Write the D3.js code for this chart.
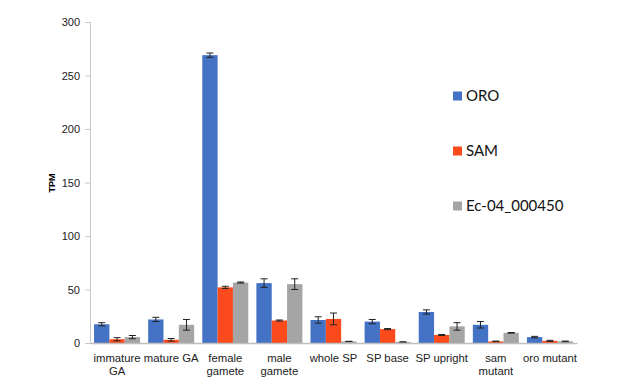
<!DOCTYPE html>
<html lang="en">
<head>
<meta charset="UTF-8">
<title>TPM bar chart</title>
<script src="https://d3js.org/d3.v7.min.js"></script>
<style>
  body { margin: 0; background: #fff; }
  .tick text { font-family: "Liberation Sans", Arial, sans-serif; fill: #222; }
  .legend text { font-family: Lato, "Open Sans", sans-serif; font-size: 15px; fill: #111; }
</style>
</head>
<body>
<div id="chart"></div>
<script>
// categories (x axis), each label may break in two lines
const categories = [["immature", "GA"], ["mature GA"], ["female", "gamete"], ["male", "gamete"],
  ["whole SP"], ["SP base"], ["SP upright"], ["sam", "mutant"], ["oro mutant"]];
const seriesNames = ["ORO", "SAM", "Ec-04_000450"];
const colors = ["#4472C4", "#FB4B1D", "#A5A5A5"];

// values and error half-widths per series
const oro = [17.5, 22, 269, 56, 21.5, 20, 29, 17, 5.5];
const oroErr = [1.5, 2, 2, 4, 3, 2, 2, 3, 0.7];
const sam = [3.5, 3, 52, 21, 22.5, 13, 7.5, 1.5, 2];
const samErr = [1.5, 1.2, 1, 0.5, 5.5, 0.5, 0.5, 0.3, 0.5];
const ec = [5.5, 17, 56.5, 55, 1.5, 1, 15.5, 9.5, 1.5];
const ecErr = [1.5, 5, 0.5, 5, 0, 0, 3.5, 0.3, 0.3];
const yTicks = [0, 50, 100, 150, 200, 250, 300];

const values = [oro, sam, ec];
const errs = [oroErr, samErr, ecErr];

const W = 617, H = 387;
const margin = { left: 90, top: 22, right: 40, bottom: 44 };
const plotW = 577 - margin.left, plotH = 343 - margin.top;

const svg = d3.select("#chart").append("svg").attr("width", W).attr("height", H);
const g = svg.append("g").attr("transform", `translate(${margin.left},${margin.top})`);

const x = d3.scaleBand().domain(d3.range(categories.length)).range([0, plotW]).paddingInner(0.15).paddingOuter(0.075);
const xs = d3.scaleBand().domain(d3.range(3)).range([0, x.bandwidth()]);
const y = d3.scaleLinear().domain([0, 300]).range([plotH, 0]);

// y axis
const yAxis = g.append("g").call(d3.axisLeft(y).tickValues(yTicks).tickSize(5).tickPadding(5));
yAxis.select(".domain").attr("stroke", "#c8c8c8");
yAxis.selectAll(".tick line").attr("stroke", "#c8c8c8");
yAxis.selectAll(".tick text").style("font-size", "11px");

g.append("text")
  .attr("transform", `translate(${52 - margin.left},${183 - margin.top}) rotate(-90)`)
  .attr("text-anchor", "middle").attr("dy", "0.35em")
  .style("font-family", "Liberation Sans, Arial, sans-serif").style("font-size", "9px").style("font-weight", "bold")
  .text("TPM");

// bars
const groups = g.selectAll(".grp").data(categories).enter().append("g")
  .attr("transform", (d, i) => `translate(${x(i)},0)`);

values.forEach((vals, s) => {
  groups.append("rect")
    .attr("x", xs(s)).attr("width", xs.bandwidth())
    .attr("y", (d, i) => y(vals[i]))
    .attr("height", (d, i) => y(0) - y(vals[i]))
    .attr("fill", colors[s]);
  const eb = groups.append("g").attr("stroke", "#222").attr("stroke-width", 1);
  eb.append("line")
    .attr("x1", xs(s) + xs.bandwidth() / 2).attr("x2", xs(s) + xs.bandwidth() / 2)
    .attr("y1", (d, i) => y(vals[i] + errs[s][i])).attr("y2", (d, i) => y(vals[i] - errs[s][i]));
  [1, -1].forEach(sign => {
    eb.append("line")
      .attr("x1", xs(s) + xs.bandwidth() / 2 - 3.5).attr("x2", xs(s) + xs.bandwidth() / 2 + 3.5)
      .attr("y1", (d, i) => y(vals[i] + sign * errs[s][i])).attr("y2", (d, i) => y(vals[i] + sign * errs[s][i]));
  });
});

// x axis
const xAxis = g.append("g").attr("transform", `translate(0,${plotH})`)
  .call(d3.axisBottom(x).tickSize(0).tickFormat(""));
xAxis.select(".domain").attr("stroke", "#c0c0c0").attr("stroke-width", 1.5);
xAxis.selectAll(".tick").each(function (d) {
  const t = d3.select(this).append("text").attr("fill", "#222").attr("text-anchor", "middle")
    .attr("y", 19).style("font-size", "11.3px");
  categories[d].forEach((line, k) => {
    t.append("tspan").attr("x", 0).attr("dy", k === 0 ? 0 : 12.5).text(line);
  });
});

// legend
const legend = svg.append("g").attr("class", "legend");
seriesNames.forEach((name, s) => {
  const ly = 96 + s * 55;
  legend.append("rect").attr("x", 453).attr("y", ly - 4.5).attr("width", 9).attr("height", 9).attr("fill", colors[s]);
  legend.append("text").attr("x", 466).attr("y", ly).attr("dy", "0.36em").text(name);
});
</script>
</body>
</html>
